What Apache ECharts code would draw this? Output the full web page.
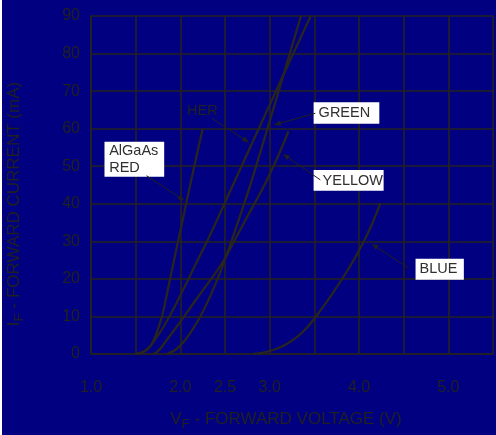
<!DOCTYPE html>
<html>
<head>
<meta charset="utf-8">
<script src="https://cdn.jsdelivr.net/npm/echarts@6/dist/echarts.min.js"></script>
<style>
  html, body { margin: 0; padding: 0; background: #ffffff; }
  #chart { width: 496px; height: 435px; }
</style>
</head>
<body>
<div id="chart"></div>
<script>
// Forward current vs forward voltage for several LED technologies.
const xTickLabels = ['1.0', '2.0', '2.5', '3.0', '4.0', '5.0'];
const yTickLabels = ['0', '10', '20', '30', '40', '50', '60', '70', '80', '90'];
const seriesNames = ['AlGaAs RED', 'HER', 'GREEN', 'YELLOW', 'BLUE'];
const calloutLabels = ['AlGaAs\nRED', 'HER', 'GREEN', 'YELLOW', 'BLUE'];

// Forward voltage (V) and forward current (mA) pairs for each curve
const redV    = [1.50, 1.58, 1.65, 1.70, 1.75, 1.80, 1.885, 1.975, 2.11, 2.25];
const redI    = [0, 0.5, 1.7, 3.6, 6.6, 10.5, 20, 30, 45, 60];

const herV    = [1.50, 1.58, 1.65, 1.70, 1.78, 1.85, 1.93, 2.05, 2.20, 2.32, 2.57, 2.80, 3.00, 3.23, 3.46];
const herI    = [0, 0.5, 1.7, 3.3, 6.0, 8.8, 12.3, 18.0, 25.3, 31.0, 44.0, 56.0, 66.3, 78.3, 90];

const greenV  = [1.85, 1.95, 2.05, 2.15, 2.25, 2.35, 2.45, 2.52, 2.58, 2.70, 2.79, 3.00, 3.12, 3.21, 3.35];
const greenI  = [0, 1.2, 3.6, 7.0, 11.2, 16.2, 22.0, 26.5, 30.6, 39.0, 45.5, 62.0, 71.5, 78.8, 90];

const yellowV = [1.70, 1.76, 1.85, 2.00, 2.20, 2.40, 2.50, 2.61, 2.75, 2.92, 3.10, 3.21];
const yellowI = [0, 1.0, 3.8, 8.6, 15.3, 21.8, 25.5, 30.4, 36.6, 44.0, 53.0, 59.3];

const blueV   = [2.81, 2.90, 3.00, 3.10, 3.20, 3.30, 3.40, 3.50, 3.60, 3.70, 3.83, 3.95, 4.05, 4.15, 4.24];
const blueI   = [0, 0.25, 0.8, 1.6, 2.8, 4.4, 6.6, 9.4, 12.6, 16.0, 20.7, 25.4, 29.8, 34.8, 40.2];

const curves = [
  [redV, redI], [herV, herI], [greenV, greenI], [yellowV, yellowI], [blueV, blueI]
];

const NAVY = '#000080';
const INK = '#202020';
const GRID = '#242220';
const CURVE = '#282420';
const BOXTEXT = '#303030';
const FONT = '"Liberation Sans", Arial, sans-serif';

const chart = echarts.init(document.getElementById('chart'), null, { renderer: 'canvas' });

const series = curves.map(function (c, k) {
  return {
    name: seriesNames[k],
    type: 'line',
    data: c[0].map(function (v, i) { return [v, c[1][i]]; }),
    showSymbol: false,
    symbol: 'none',
    smooth: 0.3,
    lineStyle: { color: CURVE, width: 2.3 },
    silent: true,
    z: 3
  };
});

chart.setOption({
  backgroundColor: NAVY,
  animation: false,
  grid: { left: 91, right: 1, top: 16, bottom: 81 },
  xAxis: {
    type: 'value', min: 1.0, max: 5.5, interval: 0.5,
    axisLine: { show: true, lineStyle: { color: GRID, width: 1.6 } },
    axisTick: { show: false },
    splitLine: { show: true, lineStyle: { color: GRID, width: 1.6 } },
    axisLabel: {
      color: INK, fontSize: 16, fontFamily: FONT, margin: 26,
      formatter: function (v) {
        const s = v.toFixed(1);
        return xTickLabels.indexOf(s) >= 0 ? s : '';
      }
    }
  },
  yAxis: {
    type: 'value', min: 0, max: 90, interval: 10,
    axisLine: { show: true, lineStyle: { color: GRID, width: 1.6 } },
    axisTick: { show: false },
    splitLine: { show: true, lineStyle: { color: GRID, width: 1.6 } },
    axisLabel: {
      color: INK, fontSize: 16, fontFamily: FONT, margin: 11,
      formatter: function (v) {
        const s = String(Math.round(v));
        return yTickLabels.indexOf(s) >= 0 ? s : '';
      }
    }
  },
  series: series
});

// Callouts: box/text anchor (data coords), arrow tail and arrow tip (data coords)
const callouts = [
  { label: calloutLabels[0], anchor: [1.151, 56.54], w: 59.7, h: 35, tx: 4.7, ty: 0.8, boxed: true,
    from: [1.622, 47.47], to: [2.048, 40.8] },
  { label: calloutLabels[1], anchor: [2.246, 64.65], boxed: false,
    from: [2.351, 62.8], to: [2.77, 56.3] },
  { label: calloutLabels[2], anchor: [3.492, 67.02], w: 65.7, h: 21.4, tx: 5, ty: 10.9, boxed: true,
    from: [3.511, 64.1], to: [3.048, 61.0] },
  { label: calloutLabels[3], anchor: [3.492, 49.0], w: 70, h: 20.7, tx: 9, ty: 11.3, boxed: true,
    from: [3.567, 46.36], to: [3.148, 53.27] },
  { label: calloutLabels[4], anchor: [4.633, 25.35], w: 48.3, h: 21, tx: 4, ty: 10.7, boxed: true,
    from: [4.556, 22.87], to: [4.14, 29.34] }
];

function px(p) { return chart.convertToPixel({ gridIndex: 0 }, p); }

const graphics = [
  // thin white strip along the left edge
  { type: 'rect', shape: { x: 0, y: 0, width: 2, height: 435 }, style: { fill: '#ffffff' }, z: 100 }
];

callouts.forEach(function (c) {
  const a = px(c.anchor);
  if (c.boxed) {
    graphics.push({ type: 'rect', shape: { x: a[0], y: a[1], width: c.w, height: c.h },
      style: { fill: '#ffffff' }, z: 50 });
    const multi = c.label.indexOf('\n') >= 0;
    graphics.push({ type: 'text', x: a[0] + c.tx, y: a[1] + c.ty, z: 51,
      style: { text: c.label, fontSize: 14.5, fontFamily: FONT, fill: BOXTEXT,
        align: 'left', verticalAlign: multi ? 'top' : 'middle', lineHeight: 17 } });
  } else {
    graphics.push({ type: 'text', x: a[0], y: a[1], z: 51,
      style: { text: c.label, fontSize: 14.5, fontFamily: FONT, fill: INK,
        align: 'center', verticalAlign: 'middle' } });
  }
  const p1 = px(c.from), p2 = px(c.to);
  const dx = p2[0] - p1[0], dy = p2[1] - p1[1];
  const len = Math.sqrt(dx * dx + dy * dy);
  const ux = dx / len, uy = dy / len, nx = -uy, ny = ux;
  const hl = 7, hw = 2.6;
  graphics.push({ type: 'line', shape: { x1: p1[0], y1: p1[1], x2: p2[0] - ux * 3, y2: p2[1] - uy * 3 },
    style: { stroke: INK, lineWidth: 1 }, z: 60 });
  graphics.push({ type: 'polygon', z: 60,
    shape: { points: [
      [p2[0], p2[1]],
      [p2[0] - ux * hl + nx * hw, p2[1] - uy * hl + ny * hw],
      [p2[0] - ux * hl - nx * hw, p2[1] - uy * hl - ny * hw]
    ] },
    style: { fill: INK } });
});

// Axis titles with subscripted F
graphics.push({
  type: 'text', x: 286, y: 419, z: 40,
  style: {
    text: '{m|V}{s|F}{m| - FORWARD VOLTAGE (V)}',
    align: 'center', verticalAlign: 'middle',
    rich: {
      m: { fontSize: 17, fontFamily: FONT, fill: INK, color: INK, lineHeight: 24, verticalAlign: 'middle' },
      s: { fontSize: 13.5, fontFamily: FONT, fill: INK, color: INK, lineHeight: 14, verticalAlign: 'bottom' }
    }
  }
});
graphics.push({
  type: 'text', x: 14, y: 204, rotation: Math.PI / 2, z: 40,
  style: {
    text: '{m|I}{s|F}{m| - FORWARD CURRENT (mA)}',
    align: 'center', verticalAlign: 'middle',
    rich: {
      m: { fontSize: 17, fontFamily: FONT, fill: INK, color: INK, lineHeight: 24, verticalAlign: 'middle' },
      s: { fontSize: 13.5, fontFamily: FONT, fill: INK, color: INK, lineHeight: 14, verticalAlign: 'bottom' }
    }
  }
});

chart.setOption({ graphic: graphics });
</script>
</body>
</html>
